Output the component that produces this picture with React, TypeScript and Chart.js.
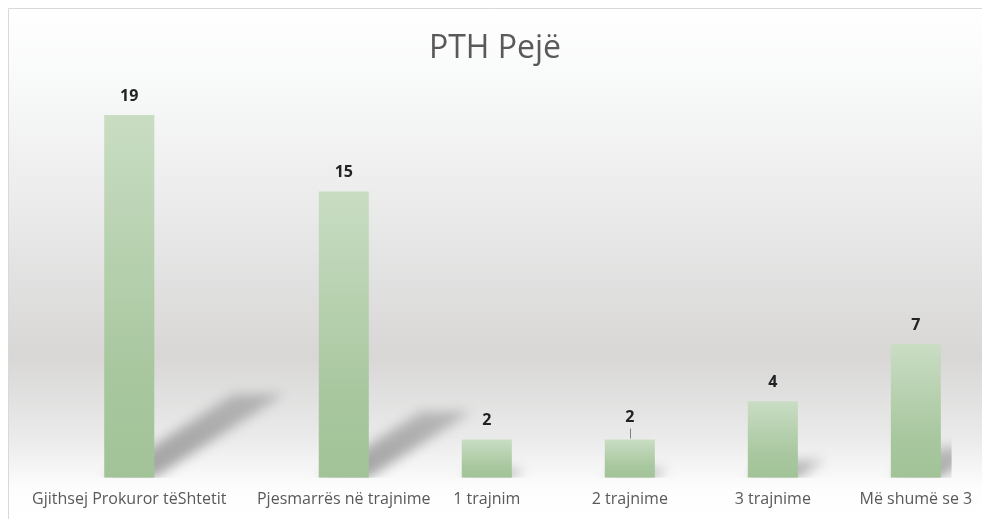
import React, { useEffect, useRef } from "react";
import { Chart, registerables } from "chart.js";

Chart.register(...registerables);

// ---- data ----
const TITLE = "PTH Pejë";
const categories = [
  "Gjithsej Prokuror tëShtetit",
  "Pjesmarrës në trajnime",
  "1 trajnim",
  "2 trajnime",
  "3 trajnime",
  "Më shumë se 3",
];
const values = [19, 15, 2, 2, 4, 7];
const yMax = 20;
const leaderLine = [false, false, false, true, false, false];

// ---- layout (empty category slots placed before each category) ----
const EMPTY_SLOTS_BEFORE = [1, 2, 1, 1, 1, 1];

const FONT = "'Open Sans', 'Noto Sans', sans-serif";
const CANVAS_W = 974;
const CANVAS_H = 514;

function buildSlots() {
  const labels: string[] = [];
  const data: (number | null)[] = [];
  const catIndex: number[] = [];
  categories.forEach((c, i) => {
    for (let k = 0; k < EMPTY_SLOTS_BEFORE[i]; k++) {
      labels.push("");
      data.push(null);
      catIndex.push(-1);
    }
    labels.push(c);
    data.push(values[i]);
    catIndex.push(i);
  });
  return { labels, data, catIndex };
}

const backgroundPlugin = {
  id: "bgPlugin",
  beforeDraw(chart: any) {
    const { ctx, width } = chart;
    const height = 511;
    ctx.save();
    const g = ctx.createLinearGradient(0, 0, 0, height);
    g.addColorStop(0, "#ffffff");
    g.addColorStop(0.15, "#f8f9f9");
    g.addColorStop(0.4, "#eaeaea");
    g.addColorStop(0.68, "#d8d7d6");
    g.addColorStop(0.84, "#eaeaea");
    g.addColorStop(0.94, "#fdfdfd");
    g.addColorStop(1, "#ffffff");
    ctx.fillStyle = g;
    ctx.fillRect(0, 0, width, chart.height);
    ctx.strokeStyle = "#d9d9d9";
    ctx.lineWidth = 1;
    ctx.beginPath();
    ctx.moveTo(0.5, chart.height);
    ctx.lineTo(0.5, 0.5);
    ctx.lineTo(width, 0.5);
    ctx.stroke();
    ctx.restore();
  },
};

const shadowPlugin = {
  id: "shadowPlugin",
  beforeDatasetsDraw(chart: any) {
    const { ctx, chartArea } = chart;
    const meta = chart.getDatasetMeta(0);
    const data = chart.data.datasets[0].data;
    ctx.save();
    ctx.beginPath();
    ctx.rect(chartArea.left, chartArea.top, chartArea.right - chartArea.left, chartArea.bottom - chartArea.top);
    ctx.clip();
    ctx.filter = "blur(6px)";
    meta.data.forEach((bar: any, i: number) => {
      if (data[i] == null) return;
      const { x, y, base, width } = bar.getProps(["x", "y", "base", "width"], true);
      const h = base - y;
      const sh = h * 0.23;
      const dx = sh * 1.55;
      const l = x - width / 2;
      const r = x + width / 2;
      const g = ctx.createLinearGradient(0, base, 0, base - sh);
      g.addColorStop(0, "rgba(0,0,0,0.34)");
      g.addColorStop(1, "rgba(0,0,0,0.2)");
      ctx.fillStyle = g;
      ctx.beginPath();
      ctx.moveTo(l, base);
      ctx.lineTo(r, base);
      ctx.lineTo(r + dx, base - sh);
      ctx.lineTo(l + dx, base - sh);
      ctx.closePath();
      ctx.fill();
    });
    ctx.restore();
  },
};

const labelPlugin = {
  id: "labelPlugin",
  afterDatasetsDraw(chart: any) {
    const { ctx } = chart;
    const meta = chart.getDatasetMeta(0);
    const data = chart.data.datasets[0].data;
    const catIndex: number[] = chart.options.plugins.labelPlugin.catIndex;
    ctx.save();
    ctx.font = `bold 16px ${FONT}`;
    ctx.fillStyle = "#222222";
    ctx.textAlign = "center";
    ctx.textBaseline = "middle";
    meta.data.forEach((bar: any, i: number) => {
      const v = data[i];
      if (v == null) return;
      const { x, y } = bar.getProps(["x", "y"], true);
      const ci = catIndex[i];
      if (ci >= 0 && leaderLine[ci]) {
        ctx.fillText(String(v), x, y - 22);
        ctx.strokeStyle = "#7f7f7f";
        ctx.lineWidth = 1;
        ctx.beginPath();
        ctx.moveTo(Math.round(x) + 0.5, y - 11);
        ctx.lineTo(Math.round(x) + 0.5, y - 1);
        ctx.stroke();
      } else {
        ctx.fillText(String(v), x, y - 19);
      }
    });
    ctx.restore();
  },
};

export default function App() {
  const canvasRef = useRef<HTMLCanvasElement | null>(null);

  useEffect(() => {
    const canvas = canvasRef.current;
    if (!canvas) return;
    const { labels, data, catIndex } = buildSlots();
    const chart = new Chart(canvas, {
      type: "bar",
      data: {
        labels,
        datasets: [
          {
            data,
            backgroundColor: (c: any) => {
              const ch = c.chart;
              const ys = ch.scales && ch.scales.y;
              if (!ch.chartArea || !ys || c.raw == null) return "#b5d0ad";
              const top = ys.getPixelForValue(c.raw);
              const bottom = ys.getPixelForValue(0);
              const g = ch.ctx.createLinearGradient(0, top, 0, bottom);
              g.addColorStop(0, "#c9ddc3");
              g.addColorStop(0.7, "#a8c79f");
              g.addColorStop(1, "#a2c398");
              return g;
            },
            borderWidth: 0,
            barPercentage: 0.7,
            categoryPercentage: 1,
          },
        ],
      },
      options: {
        responsive: false,
        animation: false,
        layout: { padding: { left: 14, right: 14, top: 0, bottom: 0.7 } },
        scales: {
          x: {
            grid: { display: false, drawTicks: false },
            border: { display: false },
            ticks: {
              autoSkip: false,
              maxRotation: 0,
              minRotation: 0,
              padding: 12.2,
              color: "#595959",
              font: { family: FONT, size: 16 },
            },
            afterFit(scale: any) {
              scale.paddingLeft = 0;
              scale.paddingRight = 30.4;
            },
          },
          y: {
            display: false,
            min: 0,
            max: yMax,
          },
        },
        plugins: {
          legend: { display: false },
          tooltip: { enabled: false },
          title: {
            display: true,
            text: TITLE,
            color: "#595959",
            font: { family: FONT, size: 32, weight: "normal" },
            padding: { top: 22, bottom: 27.6 },
          },
          labelPlugin: { catIndex },
        } as any,
      },
      plugins: [backgroundPlugin, shadowPlugin, labelPlugin],
    });
    return () => chart.destroy();
  }, []);

  return (
    <div style={{ position: "fixed", left: 8, top: 8, width: CANVAS_W, height: CANVAS_H }}>
      <canvas ref={canvasRef} width={CANVAS_W} height={CANVAS_H} style={{ display: "block" }} />
    </div>
  );
}
